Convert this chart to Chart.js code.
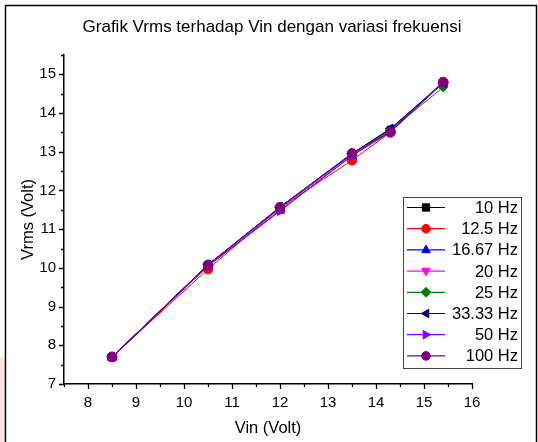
<!DOCTYPE html>
<html><head><meta charset="utf-8">
<script src="https://cdn.jsdelivr.net/npm/chart.js@4/dist/chart.umd.min.js"></script>
<style>html,body{margin:0;padding:0;background:#fff;}#wrap{position:relative;width:538px;height:442px;}</style>
</head><body><div id="wrap"><canvas id="c" width="538" height="442"></canvas></div>
<script>
const chartTitle = 'Grafik Vrms terhadap Vin dengan variasi frekuensi';
const xTitle = 'Vin (Volt)';
const yTitle = 'Vrms (Volt)';
const vin = [8.5, 10.5, 12, 13.5, 14.3, 15.4];
const seriesLabels = ['10 Hz', '12.5 Hz', '16.67 Hz', '20 Hz', '25 Hz', '33.33 Hz', '50 Hz', '100 Hz'];
const vrms10  = [7.70, 10.08, 11.57, 12.95, 13.58, 14.80];
const vrms12  = [7.70,  9.97, 11.55, 12.78, 13.50, 14.78];
const vrms16  = [7.68, 10.05, 11.48, 12.90, 13.55, 14.78];
const vrms20  = [7.70, 10.07, 11.52, 12.93, 13.52, 14.80];
const vrms25  = [7.70, 10.08, 11.55, 12.95, 13.55, 14.67];
const vrms33  = [7.70, 10.08, 11.57, 12.95, 13.60, 14.78];
const vrms50  = [7.69, 10.05, 11.47, 12.90, 13.50, 14.80];
const vrms100 = [7.70, 10.08, 11.57, 12.96, 13.51, 14.80];
const seriesValues = [vrms10, vrms12, vrms16, vrms20, vrms25, vrms33, vrms50, vrms100];
const seriesColors = ['#000000', '#ff0000', '#0000ff', '#ff00ff', '#008000', '#000080', '#8000ff', '#800080'];
const seriesShapes = ['rect', 'circle', 'triangle', 'triangle', 'rectRot', 'triangle', 'triangle', 'circle'];
const seriesRotation = [0, 0, 0, 180, 0, -90, 90, 0];
const xMin = 7.5, xMax = 16, yMin = 7, yMax = 15.5, tickStep = 0.5;

const FONT = "'Liberation Sans', Arial, sans-serif";

const datasets = seriesLabels.map((lab, i) => ({
  label: lab,
  data: vin.map((x, j) => ({x: x, y: seriesValues[i][j]})),
  borderColor: seriesColors[i],
  backgroundColor: seriesColors[i],
  pointBackgroundColor: seriesColors[i],
  pointBorderColor: seriesColors[i],
  borderWidth: 1,
  pointRadius: seriesShapes[i] === 'rect' ? 4.5 : (seriesShapes[i] === 'triangle' ? 5.2 : 4.8),
  pointBorderWidth: 1,
  pointStyle: seriesShapes[i],
  rotation: seriesRotation[i],
  order: seriesLabels.length - 1 - i,
  tension: 0
}));

function drawMarker(ctx, shape, rot, x, y, r, color) {
  ctx.save();
  ctx.fillStyle = color; ctx.strokeStyle = color; ctx.lineWidth = 1;
  ctx.translate(x, y);
  ctx.rotate(rot * Math.PI / 180);
  ctx.beginPath();
  if (shape === 'rect') {
    ctx.rect(-r * 0.85, -r * 0.85, r * 1.7, r * 1.7);
  } else if (shape === 'circle') {
    ctx.arc(0, 0, r, 0, Math.PI * 2);
  } else if (shape === 'rectRot') {
    ctx.moveTo(0, -r * 1.15); ctx.lineTo(r * 1.15, 0); ctx.lineTo(0, r * 1.15); ctx.lineTo(-r * 1.15, 0); ctx.closePath();
  } else if (shape === 'triangle') {
    ctx.moveTo(0, -r * 1.1); ctx.lineTo(r * 1.0, r * 0.65); ctx.lineTo(-r * 1.0, r * 0.65); ctx.closePath();
  }
  ctx.fill(); ctx.stroke();
  ctx.restore();
}

const decorPlugin = {
  id: 'decor',
  beforeDraw(chart) {
    const ctx = chart.ctx;
    ctx.save();
    ctx.fillStyle = '#ffffff';
    ctx.fillRect(0, 0, chart.width, chart.height);
    ctx.fillStyle = '#fde2e2';
    ctx.fillRect(0, 357, 5, 85);
    ctx.strokeStyle = '#000';
    ctx.lineWidth = 1.5;
    ctx.strokeRect(5.5, 5.5, 531, 460);
    ctx.fillStyle = '#000';
    ctx.font = '17px ' + FONT;
    ctx.textAlign = 'center';
    ctx.textBaseline = 'middle';
    ctx.fillText(chartTitle, 272, 27);
    ctx.restore();
  },
  afterDraw(chart) {
    const ctx = chart.ctx;
    const xs = chart.scales.x, ys = chart.scales.y;
    ctx.save();
    ctx.strokeStyle = '#000';
    ctx.lineWidth = 1.3;
    ctx.beginPath();
    for (const t of xs.ticks) {
      const px = Math.round(xs.getPixelForValue(t.value)) + 0.5;
      const len = Number.isInteger(t.value) ? 5 : 3;
      ctx.moveTo(px, xs.top); ctx.lineTo(px, xs.top + len);
    }
    for (const t of ys.ticks) {
      const py = Math.round(ys.getPixelForValue(t.value)) + 0.5;
      const len = Number.isInteger(t.value) ? 5 : 3;
      ctx.moveTo(ys.right, py); ctx.lineTo(ys.right - len, py);
    }
    ctx.stroke();

    // legend
    const bx = 403.5, by = 197.5, bw = 118, bh = 171;
    ctx.fillStyle = '#fff';
    ctx.fillRect(bx, by, bw, bh);
    ctx.strokeStyle = '#444';
    ctx.lineWidth = 1;
    ctx.strokeRect(bx, by, bw, bh);
    ctx.font = '16.5px ' + FONT;
    ctx.textAlign = 'right';
    ctx.textBaseline = 'middle';
    chart.data.datasets.forEach((ds, i) => {
      const y = 207.5 + i * 21.2;
      ctx.strokeStyle = ds.borderColor;
      ctx.lineWidth = 1.2;
      ctx.beginPath(); ctx.moveTo(407, y); ctx.lineTo(445, y); ctx.stroke();
      drawMarker(ctx, ds.pointStyle, ds.rotation, 426, y, 4.3, ds.borderColor);
      ctx.fillStyle = '#000';
      ctx.fillText(ds.label, 518, y + 1);
    });
    ctx.restore();
  }
};

new Chart(document.getElementById('c'), {
  type: 'line',
  data: { datasets: datasets },
  options: {
    responsive: false,
    animation: false,
    devicePixelRatio: 1,
    layout: { padding: { left: 0, top: 55, right: 66, bottom: 0 } },
    plugins: { legend: { display: false }, title: { display: false }, tooltip: { enabled: false } },
    scales: {
      x: {
        type: 'linear', min: xMin, max: xMax,
        grid: { display: false, drawTicks: false },
        border: { display: true, color: '#000', width: 1.5 },
        ticks: { stepSize: tickStep, autoSkip: false, maxRotation: 0, padding: 10, color: '#000',
          font: { family: FONT, size: 15 },
          callback: v => Number.isInteger(v) ? String(v) : '' },
        title: { display: true, text: xTitle, color: '#000', font: { family: FONT, size: 16.5 }, padding: { top: 0, bottom: 4 } },
        afterFit: s => { s.height = 58; }
      },
      y: {
        type: 'linear', min: yMin, max: yMax,
        grid: { display: false, drawTicks: false },
        border: { display: true, color: '#000', width: 1.5 },
        ticks: { stepSize: tickStep, autoSkip: false, padding: 8, color: '#000',
          font: { family: FONT, size: 15 },
          callback: v => Number.isInteger(v) ? String(v) : '' },
        title: { display: true, text: yTitle, color: '#000', font: { family: FONT, size: 16.5 }, padding: { top: 19, bottom: 0 } },
        afterFit: s => { s.width = 64; }
      }
    }
  },
  plugins: [decorPlugin]
});
</script></body></html>
